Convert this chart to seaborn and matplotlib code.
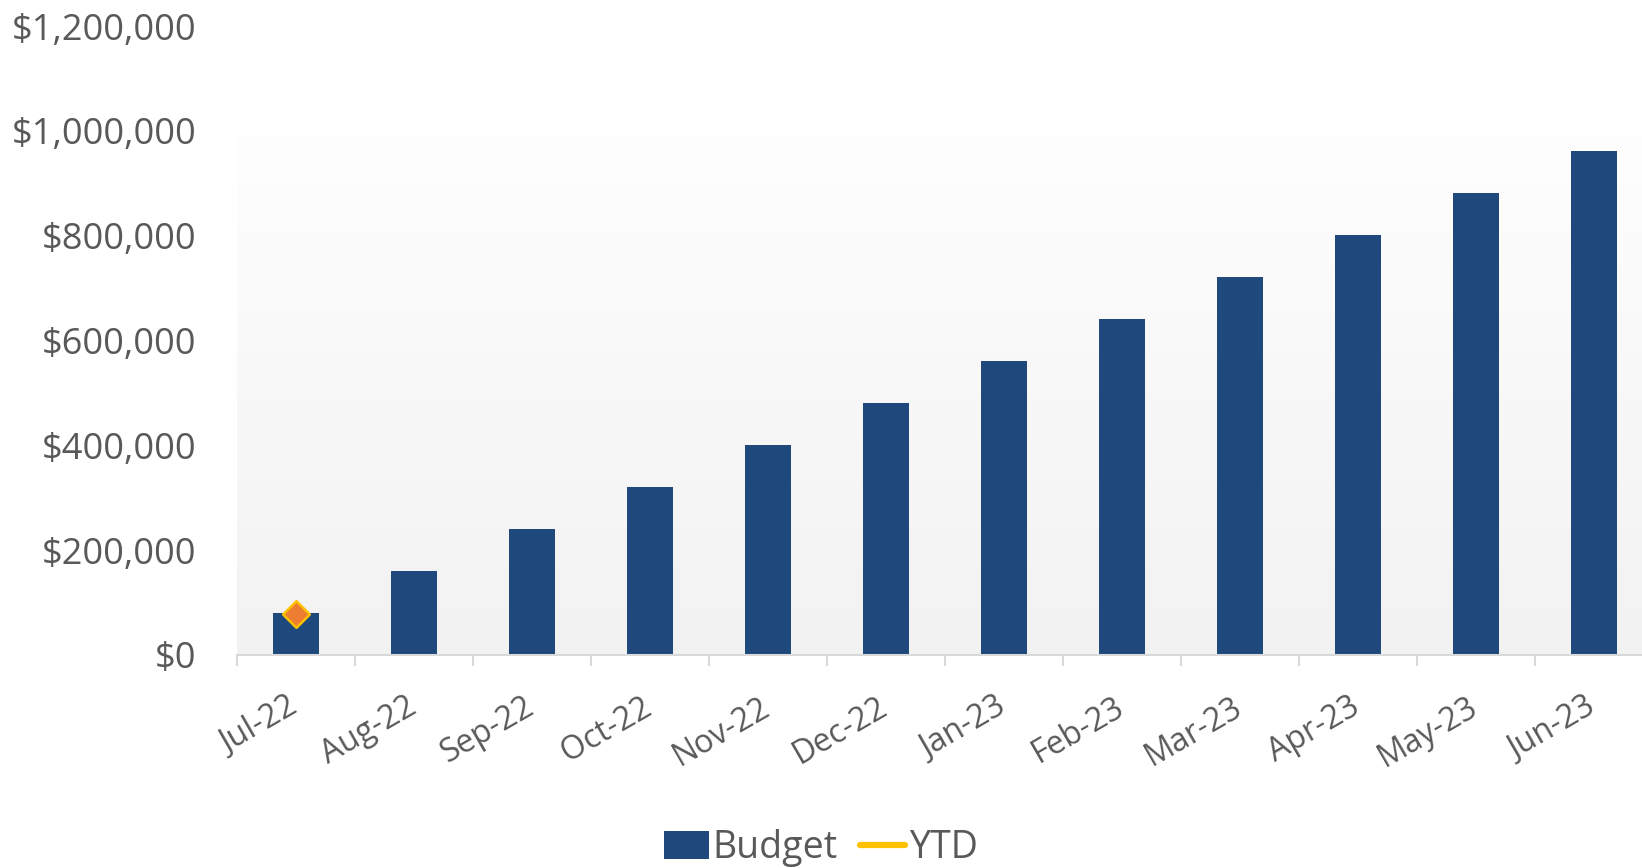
import numpy as np
import pandas as pd
import matplotlib
matplotlib.use('Agg')
import matplotlib.pyplot as plt
import seaborn as sns
from matplotlib.lines import Line2D
from matplotlib.patches import Patch
from matplotlib.ticker import FuncFormatter, FixedLocator

# data
months = ['Jul-22', 'Aug-22', 'Sep-22', 'Oct-22', 'Nov-22', 'Dec-22',
          'Jan-23', 'Feb-23', 'Mar-23', 'Apr-23', 'May-23', 'Jun-23']
budget = [80000, 160000, 240000, 320000, 401000, 481000,
          561000, 641000, 721000, 801000, 882000, 962000]
ytd_months = ['Jul-22']
ytd = [79000]

bar_color = '#1F497D'
text_color = '#595959'

sns.set_style('white')
plt.rcParams['font.family'] = ['Open Sans', 'DejaVu Sans']

fig = plt.figure(figsize=(16.42, 8.68), dpi=100)
ax = fig.add_axes([0.1441, 0.2454, 0.8624, 0.7246])
ax.set_facecolor('none')

# gradient plot-area background
grad = np.linspace(0xF2, 0xFF, 256)[::-1].reshape(-1, 1) / 255.0
grad_rgb = np.dstack([grad, grad, grad])
ax.imshow(grad_rgb, extent=(0, 1, 0, 0.887), transform=ax.transAxes,
          aspect='auto', zorder=0, interpolation='bilinear')

df = pd.DataFrame({'month': months, 'Budget': budget})
sns.barplot(data=df, x='month', y='Budget', color=bar_color, width=0.39,
            saturation=1, linewidth=0, ax=ax, zorder=2)

ytd_x = [months.index(m) for m in ytd_months]
sns.scatterplot(x=ytd_x, y=ytd, marker='D', s=185, color='#ED7D31',
                edgecolor='#FFC000', linewidth=1.8, ax=ax, zorder=3)

ax.set_xlim(-0.5, len(months) - 0.5)
ax.set_ylim(0, 1200000)
ax.set_yticks(np.arange(0, 1200001, 200000))
ax.yaxis.set_major_formatter(FuncFormatter(lambda v, p: f'${v:,.0f}'))
ax.set_xlabel('')
ax.set_ylabel('')

for s in ['top', 'right', 'left']:
    ax.spines[s].set_visible(False)
ax.spines['bottom'].set_color('#D9D9D9')
ax.spines['bottom'].set_linewidth(1.5)
ax.spines['bottom'].set_zorder(4)

ax.xaxis.set_minor_locator(FixedLocator(np.arange(-0.5, len(months), 1.0)))
ax.tick_params(axis='x', which='minor', length=8, width=1.5, color='#D9D9D9',
               bottom=True)
ax.tick_params(axis='x', which='major', length=0, pad=36, labelsize=23,
               labelcolor=text_color)
ax.tick_params(axis='y', length=0, pad=29, labelsize=26, labelcolor=text_color)
for lab in ax.get_xticklabels():
    lab.set_rotation(30)
    lab.set_ha('right')
    lab.set_va('center')
    lab.set_rotation_mode('anchor')

handles = [Patch(facecolor=bar_color, edgecolor='none', label='Budget'),
           Line2D([0], [0], color='#FFC000', lw=4.5, solid_capstyle='round',
                  label='YTD')]
fig.legend(handles=handles, loc='center', bbox_to_anchor=(0.5, 0.023),
           ncol=2, frameon=False, fontsize=27, handlelength=1.2,
           handleheight=0.75, handletextpad=0.1, columnspacing=0.6,
           labelcolor=text_color)

fig.savefig('out.png', dpi=100)
